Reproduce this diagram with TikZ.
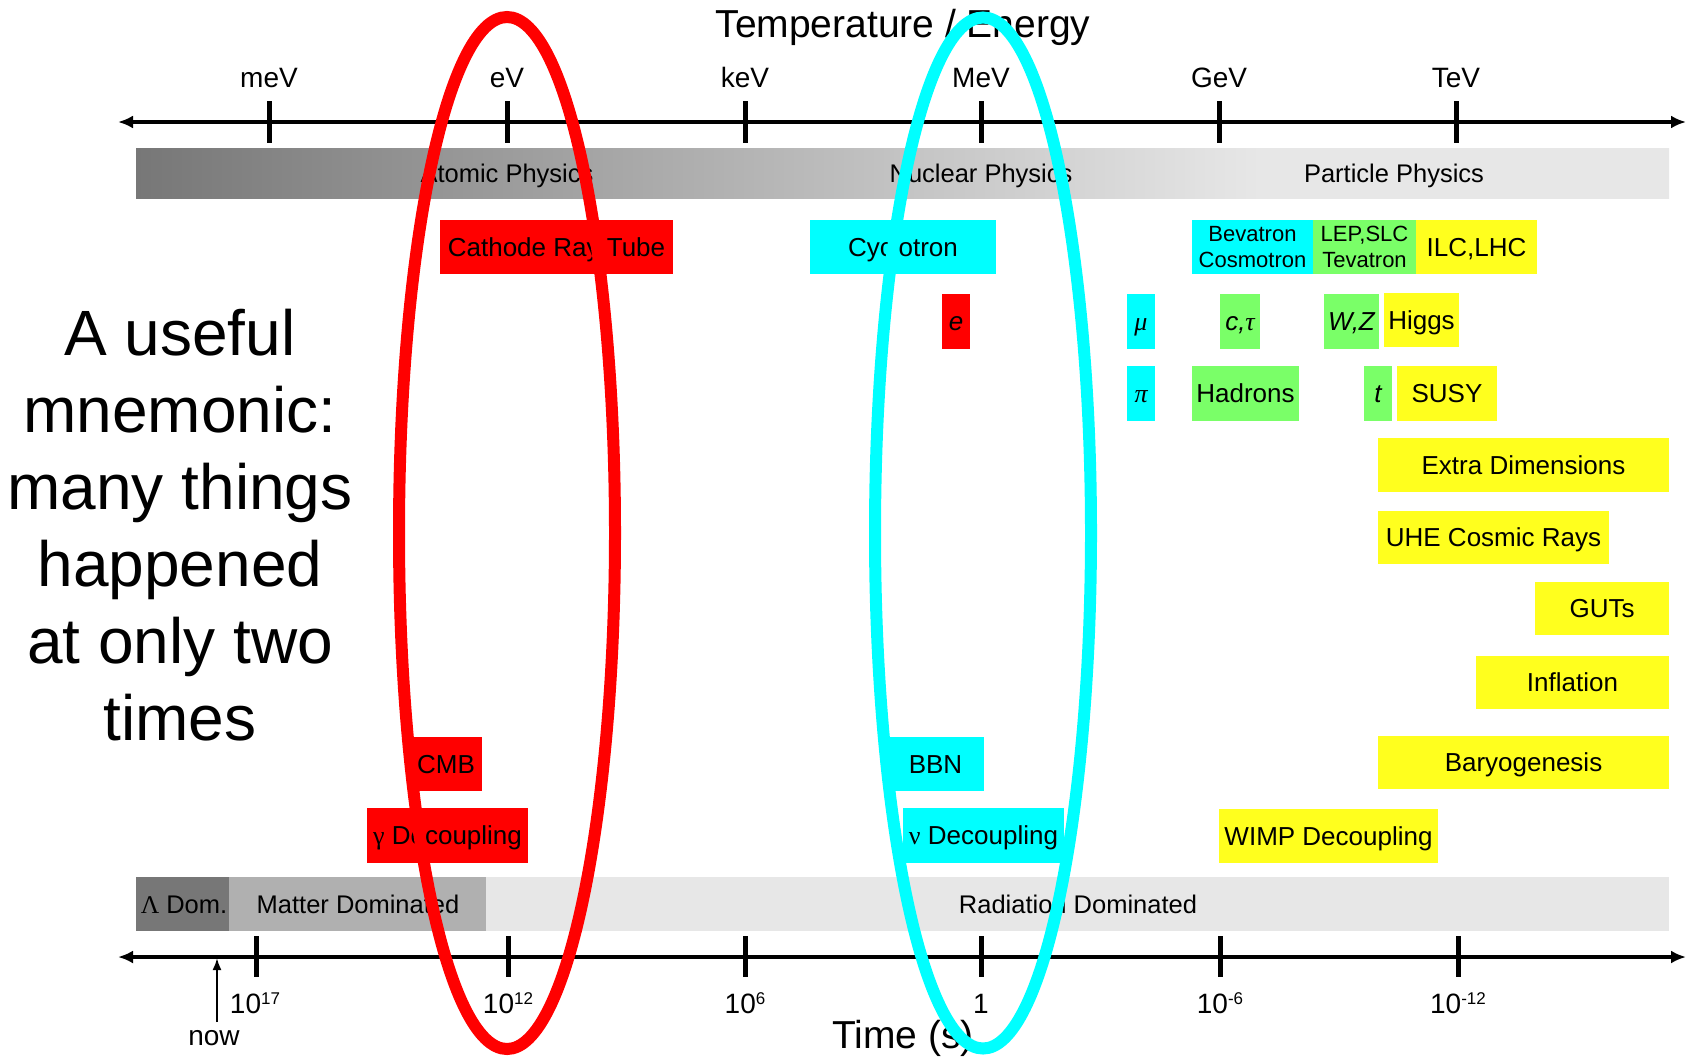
\documentclass[tikz,border=0pt]{standalone}
\usepackage{fontspec}
\setmainfont{Liberation Sans}
\newfontfamily\grk{Liberation Serif}
\usetikzlibrary{arrows.meta}
\newcommand\fsz[1]{\fontsize{#1}{#1}\selectfont}
\newcommand\sups[1]{\raisebox{9pt}{\fsz{17}#1}}
\definecolor{boxred}{RGB}{255,0,0}
\definecolor{boxcyan}{RGB}{0,255,255}
\definecolor{boxgreen}{RGB}{122,255,104}
\definecolor{boxyellow}{RGB}{255,255,30}
\definecolor{banddark}{RGB}{119,119,119}
\definecolor{bandmid}{RGB}{176,176,176}
\definecolor{bandlight}{RGB}{231,231,231}
% dark-to-light ramp over the left three quarters of the energy band
\pgfdeclarehorizontalshading{energyband}{100bp}{color(0bp)=(banddark); color(25bp)=(banddark); color(61.66bp)=(bandlight); color(100bp)=(bandlight)}
\begin{document}
\begin{tikzpicture}[x=1pt,y=-1pt,
  box/.style={fill=#1, inner sep=0pt, text height=18.7pt, text depth=0pt, font=\fsz{26}},
  boxtwo/.style={fill=#1, inner sep=0pt, align=center, font=\fontsize{22}{26}\selectfont},
  axisline/.style={line width=4.5pt, {Latex[length=15pt,width=13pt]}-{Latex[length=15pt,width=13pt]}},
  tick/.style={line width=5pt},
  ticklab/.style={anchor=base, inner sep=0pt, font=\fsz{28}},
  bandlab/.style={anchor=base, inner sep=0pt, font=\fsz{25.5}},
  bigtext/.style={anchor=base, inner sep=0pt, font=\fsz{64}},
  ring/.style={draw=#1, line width=12pt},
  nowarrow/.style={line width=2pt, -{Latex[length=12pt,width=9pt]}}
]
\useasboundingbox (0,0) rectangle (1693,1060);

% energy band (atomic / nuclear / particle physics)
\shade[shading=energyband] (136,148) rectangle (1669,198);
\node[bandlab] (atomic) at (507,182) {Atomic Physics};
\node[bandlab] (nuclear) at (981,182) {Nuclear Physics};
\node[bandlab] (particle) at (1394,182) {Particle Physics};

% epoch band (Lambda / matter / radiation)
\fill[banddark] (136,877) rectangle (229,931);
\fill[bandmid] (229,877) rectangle (486,931);
\fill[bandlight] (486,877) rectangle (1669,931);
\node[bandlab] (lamdom) at (184,913) {{\grk Λ} Dom.};
\node[bandlab] (matdom) at (358,913) {Matter Dominated};
\node[bandlab] (raddom) at (1078,913) {Radiation Dominated};

% title and energy axis
\node[anchor=base, inner sep=0pt, font=\fsz{39}] (title) at (903,37) {Temperature / Energy};
\coordinate (eleft) at (118,122);
\coordinate (eright) at (1686,122);
\draw[axisline] (eleft) -- (eright);
\foreach \x/\lab/\nm in {269/meV/emev, 507/eV/eev, 745/keV/ekev, 981/MeV/emegev, 1219/GeV/egev, 1456/TeV/etev}{
  \draw[tick] (\x,101) -- (\x,143);
  \node[ticklab] (\nm) at (\x,87) {\lab};
}

% time axis
\coordinate (tleft) at (118,957);
\coordinate (tright) at (1686,957);
\draw[axisline] (tleft) -- (tright);
\foreach \x in {256,508,745,981,1220,1458}{
  \draw[tick] (\x,936) -- (\x,977);
}
\node[ticklab] (t17) at (255,1013) {10\sups{17}};
\node[ticklab] (t12) at (508,1013) {10\sups{12}};
\node[ticklab] (t6) at (745,1013) {10\sups{6}};
\node[ticklab] (t0) at (981,1013) {1};
\node[ticklab] (tm6) at (1220,1013) {10\sups{-6}};
\node[ticklab] (tm12) at (1458,1013) {10\sups{-12}};
\node[anchor=base, inner sep=0pt, font=\fsz{39}] (timelab) at (903,1048) {Time (s)};
\node[ticklab] (now) at (214,1045) {now};
\coordinate (nowtail) at (217,1022);
\coordinate (nowtip) at (217,958);
\draw[nowarrow] (nowtail) -- (nowtip);

% accelerators
\node[box=boxred, minimum width=233pt, minimum height=54pt] (crt) at (556.5,247) {Cathode Ray Tube};
\node[box=boxcyan, minimum width=186pt, minimum height=54pt] (cyc) at (903,247) {Cyclotron};
\node[boxtwo=boxcyan, minimum width=121pt, minimum height=54pt] (bev) at (1252.5,247) {Bevatron\\Cosmotron};
\node[boxtwo=boxgreen, minimum width=103pt, minimum height=54pt] (lep) at (1364.5,247) {LEP,SLC\\Tevatron};
\node[box=boxyellow, minimum width=121pt, minimum height=54pt] (ilc) at (1476.5,247) {ILC,LHC};

% particles
\node[box=boxred, minimum width=28pt, minimum height=55pt] (ee) at (956,321.5) {\itshape e};
\node[box=boxcyan, minimum width=28pt, minimum height=55pt] (mu) at (1141,321.5) {\grk\itshape μ};
\node[box=boxgreen, minimum width=40pt, minimum height=55pt] (ctau) at (1240,321.5) {{\itshape c,}{\grk\itshape τ}};
\node[box=boxgreen, minimum width=55pt, minimum height=55pt] (wz) at (1351.5,321.5) {\itshape W,Z};
\node[box=boxyellow, minimum width=75pt, minimum height=54pt] (higgs) at (1421.5,320) {Higgs};
\node[box=boxcyan, minimum width=28pt, minimum height=55pt] (pi) at (1141,393.5) {\grk\itshape π};
\node[box=boxgreen, minimum width=107pt, minimum height=55pt] (hadrons) at (1245.5,393.5) {Hadrons};
\node[box=boxgreen, minimum width=28pt, minimum height=55pt] (top) at (1378,393.5) {\itshape t};
\node[box=boxyellow, minimum width=100pt, minimum height=55pt] (susy) at (1447,393.5) {SUSY};

% early-universe topics
\node[box=boxyellow, minimum width=291pt, minimum height=54pt] (extra) at (1523.5,465) {Extra Dimensions};
\node[box=boxyellow, minimum width=231pt, minimum height=53pt] (uhe) at (1493.5,537.5) {UHE Cosmic Rays};
\node[box=boxyellow, minimum width=134pt, minimum height=53pt] (guts) at (1602,608.5) {GUTs};
\node[box=boxyellow, minimum width=193pt, minimum height=53pt] (infl) at (1572.5,682.5) {Inflation};
\node[box=boxyellow, minimum width=291pt, minimum height=53pt] (baryo) at (1523.5,762.5) {Baryogenesis};
\node[box=boxyellow, minimum width=219pt, minimum height=54pt] (wimp) at (1328.5,836) {WIMP Decoupling};

% relics
\node[box=boxred, minimum width=72pt, minimum height=54pt] (cmb) at (446,764) {CMB};
\node[box=boxred, minimum width=161pt, minimum height=55pt] (gdec) at (447.5,835.5) {{\grk γ} Decoupling};
\node[box=boxcyan, minimum width=97pt, minimum height=54pt] (bbn) at (935.5,764) {BBN};
\node[box=boxcyan, minimum width=161pt, minimum height=55pt] (ndec) at (983.5,835.5) {{\grk ν} Decoupling};

% mnemonic
\node[bigtext] (m1) at (180,355) {A useful};
\node[bigtext] (m2) at (180,432) {mnemonic:};
\node[bigtext] (m3) at (180,509) {many things};
\node[bigtext] (m4) at (180,586) {happened};
\node[bigtext] (m5) at (180,663) {at only two};
\node[bigtext] (m6) at (180,740) {times};

% the two epochs
\draw[ring=boxred] (507,533) ellipse [x radius=108, y radius=516];
\draw[ring=boxcyan] (983,533) ellipse [x radius=108, y radius=515.5];
\end{tikzpicture}
\end{document}
